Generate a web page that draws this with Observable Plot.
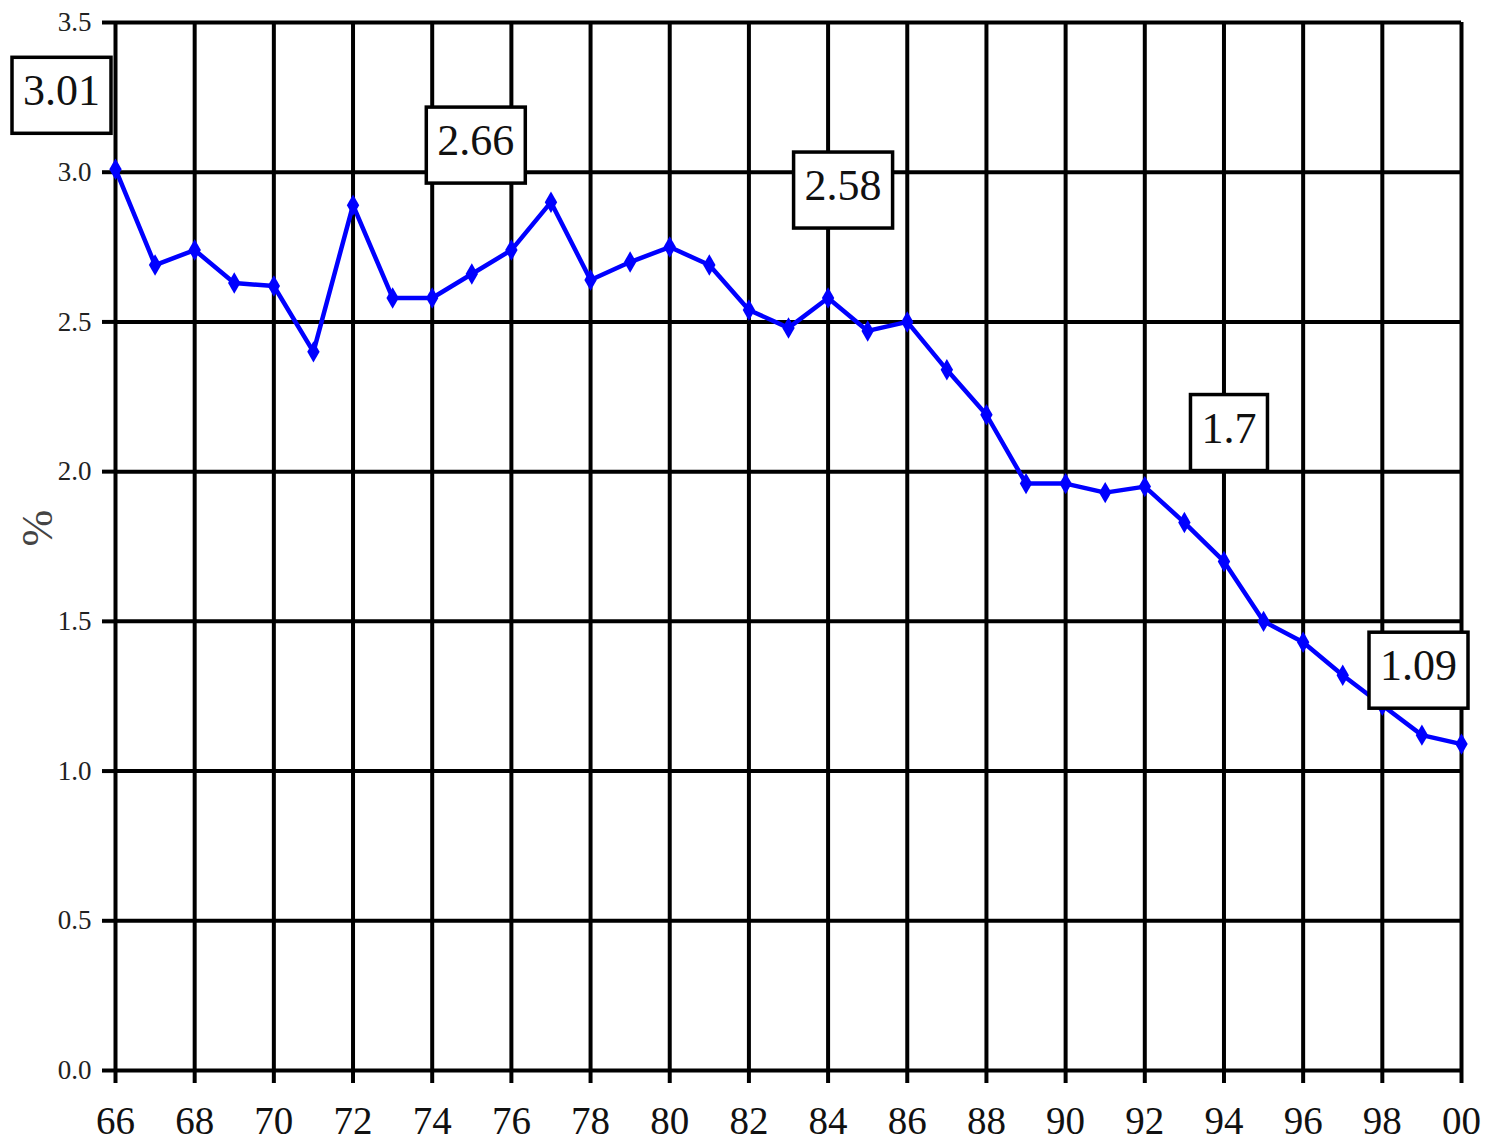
<!DOCTYPE html>
<html>
<head>
<meta charset="utf-8">
<script src="https://cdn.jsdelivr.net/npm/d3@7"></script>
<script src="https://cdn.jsdelivr.net/npm/@observablehq/plot@0.6"></script>
<style>
  html, body { margin: 0; padding: 0; background: #fff; }
  svg { display: block; }
</style>
</head>
<body>
<script>
// ---- data ----
const years = [1966,1967,1968,1969,1970,1971,1972,1973,1974,1975,1976,1977,1978,1979,1980,1981,1982,1983,1984,1985,1986,1987,1988,1989,1990,1991,1992,1993,1994,1995,1996,1997,1998,1999,2000];
const rates = [3.01,2.69,2.74,2.63,2.62,2.40,2.89,2.58,2.58,2.66,2.74,2.90,2.64,2.70,2.75,2.69,2.54,2.48,2.58,2.47,2.50,2.34,2.19,1.96,1.96,1.93,1.95,1.83,1.70,1.50,1.43,1.32,1.22,1.12,1.09];
const xTicks = [1966,1968,1970,1972,1974,1976,1978,1980,1982,1984,1986,1988,1990,1992,1994,1996,1998,2000];
const yTicks = [0,0.5,1.0,1.5,2.0,2.5,3.0,3.5];
const labelYears = [1966,1975,1984,1994,2000];
const labelTexts = ["3.01","2.66","2.58","1.7","1.09"];
const yLabel = "%";

// ---- layout (label offsets in px) ----
const labelOffsets = [[-54,-78],[4,-133],[15,-112],[5,-133],[-43,-78]];

const rows = years.map((yr, i) => ({year: yr, rate: rates[i]}));
const labels = labelYears.map((yr, i) => ({year: yr, rate: rates[years.indexOf(yr)], text: labelTexts[i]}));

const font = "'Liberation Serif', 'Times New Roman', serif";

const plot = Plot.plot({
  width: 1488,
  height: 1141,
  marginLeft: 115,
  marginRight: 27,
  marginTop: 22,
  marginBottom: 71,
  x: {domain: [1966, 2000]},
  y: {domain: [0, 3.5]},
  style: {fontFamily: font, background: "#fff", color: "#000"},
  marks: [
    Plot.gridX(xTicks, {stroke: "#000", strokeOpacity: 1, strokeWidth: 4}),
    Plot.gridY(yTicks, {stroke: "#000", strokeOpacity: 1, strokeWidth: 4}),
    Plot.axisX(xTicks, {tickSize: 13, tickPadding: 23, strokeWidth: 4, fontSize: 39, fill: "#111",
      tickFormat: d => String(d % 100).padStart(2, "0"), label: null}),
    Plot.axisY(yTicks, {tickSize: 13, tickPadding: 11, strokeWidth: 4, fontSize: 27, fill: "#222",
      tickFormat: d3.format(".1f"), label: null}),
    Plot.text([yLabel], {frameAnchor: "left", dx: -78, rotate: -90, fontSize: 44, fill: "#444", text: d => d}),
    Plot.line(rows, {x: "year", y: "rate", stroke: "#0000ff", strokeWidth: 4.5}),
    Plot.dot(rows, {x: "year", y: "rate", symbol: "diamond", r: 6.5, fill: "#0000ff", stroke: "none"}),
    ...labels.map((l, i) => Plot.text([l], {x: "year", y: "rate", text: "text",
      dx: labelOffsets[i][0], dy: labelOffsets[i][1], fontSize: 44, fill: "#111", className: "ann"}))
  ]
});

document.body.append(plot);

// draw boxes around annotation labels
const svgns = "http://www.w3.org/2000/svg";
d3.select(plot).selectAll("g.ann text").each(function() {
  const b = this.getBBox();
  const r = document.createElementNS(svgns, "rect");
  r.setAttribute("x", b.x - 11);
  r.setAttribute("y", b.y - 9);
  r.setAttribute("width", b.width + 22);
  r.setAttribute("height", b.height + 27);
  r.setAttribute("fill", "#fff");
  r.setAttribute("stroke", "#000");
  r.setAttribute("stroke-width", 3.5);
  const t = this.getAttribute("transform");
  if (t) r.setAttribute("transform", t);
  this.parentNode.insertBefore(r, this);
});
</script>
</body>
</html>
